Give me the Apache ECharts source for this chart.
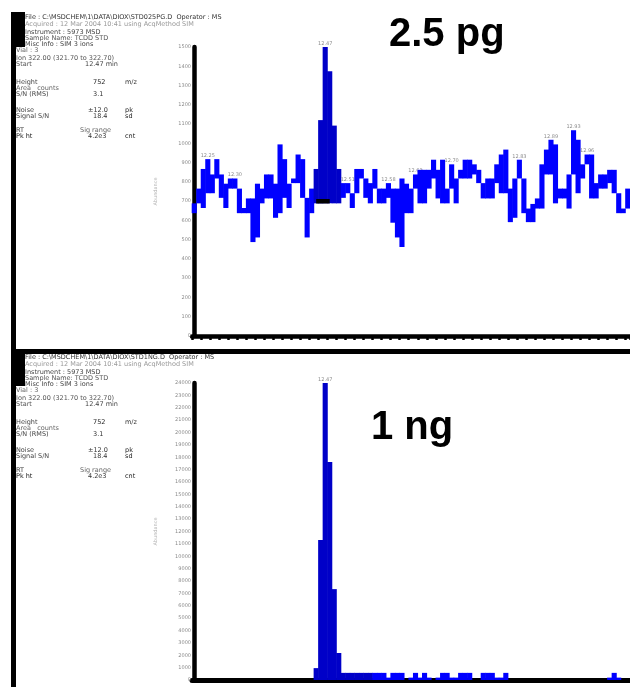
<!DOCTYPE html>
<html lang="en">
<head>
<meta charset="utf-8">
<title>2.5 pg / 1 ng</title>
<script src="https://cdn.jsdelivr.net/npm/echarts@6/dist/echarts.min.js"></script>
<style>
	html, body { margin: 0; padding: 0; background: #fff; }
	#chart { width: 630px; height: 687px; }
</style>
</head>
<body>
<div id="chart"></div>
<script>
// one column per scan, same scan window in both runs
var scans = [];
for (var i = 1; i <= 97; i++) scans.push(String(i));

// 2.5 pg run: each scan column spans low..high (relative abundance, %)
var topLow = [
	42.5, 45.9, 44.3, 49.4, 49.4, 54.5, 47.8, 44.3, 51.0, 51.0,
	42.5, 42.5, 42.5, 32.5, 34.1, 45.9, 47.6, 47.6, 40.9, 42.5,
	47.8, 44.3, 52.9, 52.9, 47.8, 34.1, 42.5, 45.9, 45.9, 45.9,
	45.9, 45.9, 45.9, 47.8, 49.4, 44.3, 49.4, 54.5, 47.8, 45.9,
	51.0, 45.9, 45.9, 47.8, 39.2, 34.1, 30.8, 42.5, 42.5, 51.0,
	45.9, 45.9, 51.0, 54.5, 47.6, 45.9, 45.9, 51.0, 45.9, 54.5,
	54.5, 54.5, 55.9, 52.9, 47.6, 47.6, 47.6, 52.9, 49.4, 49.4,
	39.4, 40.9, 54.5, 42.5, 39.4, 39.4, 44.1, 44.1, 55.9, 55.9,
	45.9, 47.6, 47.6, 44.1, 55.9, 49.4, 54.5, 59.4, 47.6, 47.6,
	51.0, 51.0, 52.9, 49.4, 42.5, 42.5, 44.1
];
var topHigh = [
	45.9, 51.0, 57.8, 61.2, 55.9, 61.2, 55.9, 52.7, 54.5, 54.5,
	51.0, 44.3, 47.6, 47.6, 52.7, 51.0, 55.9, 55.9, 52.7, 66.3,
	61.2, 52.7, 54.5, 62.8, 61.2, 47.8, 51.0, 57.8, 74.7, 100,
	91.6, 72.8, 57.8, 52.9, 52.9, 49.4, 57.8, 57.8, 54.5, 52.9,
	57.8, 51.0, 51.0, 52.9, 51.0, 51.0, 54.5, 52.7, 51.0, 55.9,
	57.5, 57.5, 57.5, 61.0, 57.5, 61.0, 51.0, 59.4, 54.5, 57.5,
	61.0, 61.0, 59.4, 57.5, 52.9, 54.5, 54.5, 59.4, 62.8, 64.5,
	51.0, 54.5, 61.0, 54.5, 44.1, 45.7, 47.6, 59.4, 64.5, 67.9,
	66.3, 51.0, 51.0, 55.9, 71.2, 67.9, 59.4, 62.8, 62.8, 52.9,
	55.9, 55.9, 57.5, 57.5, 49.4, 44.1, 51.0
];
// integrated peak and its baseline in the 2.5 pg run
var topPeak = [27, 32];
var topBaseline = [27, 30, 46.6];

// 1 ng run: abundance per scan (%)
var bottomVal = [
	0, 0, 0, 0, 0, 0, 0, 0, 0, 0,
	0, 0, 0, 0, 0, 0, 0, 0, 0, 0,
	0, 0, 0, 0, 0, 0, 0, 4.0, 47.1, 100,
	73.4, 30.6, 9.1, 2.4, 2.4, 2.4, 2.4, 2.4, 2.4, 2.4,
	2.4, 2.4, 2.4, 0.8, 2.4, 2.4, 2.4, 0, 0.8, 2.4,
	0.8, 2.4, 0.8, 0, 0.8, 2.4, 2.4, 0.8, 0.8, 2.4,
	2.4, 2.4, 0, 0, 2.4, 2.4, 2.4, 0.8, 0.8, 2.4,
	0, 0, 0, 0, 0, 0, 0, 0, 0, 0,
	0, 0, 0, 0, 0, 0, 0, 0, 0, 0,
	0, 0, 0.8, 2.4, 0.8, 0, 0
];
var bottomPeak = [27, 39];

// small retention-time tags printed over peaks
var topTagIdx = [3, 9, 29, 34, 43, 49, 57, 72, 79, 84, 87];
var topTagText = ['12.25', '12.30', '12.47', '12.51', '12.58', '12.63', '12.70', '12.83', '12.89', '12.93', '12.96'];
var bottomTagIdx = [29];
var bottomTagText = ['12.47'];

var BLUE = '#0000ff', DARK = '#0000c8';

// [scan index, low, high] per column
var topCols = topHigh.map(function (h, i) { return [i, topLow[i], h]; });
var bottomCols = bottomVal.map(function (v, i) { return [i, 0, v]; });
var baseLine = scans.map(function (s, i) {
	return (i >= topBaseline[0] && i <= topBaseline[1]) ? topBaseline[2] : null;
});

// a scan column drawn from low to high, touching its neighbours
function columnRenderer(peak, tagIdx, tagText) {
	return function (params, api) {
		var i = api.value(0);
		var lo = api.value(1), hi = api.value(2);
		if (hi <= lo) return null;
		var top = api.coord([i, hi]);
		var bot = api.coord([i, lo]);
		var w = api.size([1, 0])[0];
		var c = (i >= peak[0] && i <= peak[1]) ? DARK : BLUE;
		var kids = [{
			type: 'rect',
			shape: { x: top[0] - w / 2 - 0.3, y: top[1], width: w + 0.6, height: Math.max(bot[1] - top[1], 1) },
			style: { fill: c }
		}];
		var p = tagIdx.indexOf(i);
		if (p >= 0) {
			kids.push({
				type: 'text',
				style: {
					text: tagText[p], x: top[0], y: top[1] - 1,
					align: 'center', verticalAlign: 'bottom',
					font: '5px "DejaVu Sans"', fill: '#8c8c8c'
				}
			});
		}
		return { type: 'group', children: kids };
	};
}

// instrument header printed left of each trace
function infoBlock(dy, name) {
	var lines = [
		[25, 14, 'File : C:\\MSDCHEM\\1\\DATA\\DIOX\\' + name + '.D  Operator : MS', '#333'],
		[25, 21, 'Acquired : 12 Mar 2004 10:41 using AcqMethod SIM', '#999'],
		[25, 29, 'Instrument : 5973 MSD', '#444'],
		[25, 35, 'Sample Name: TCDD STD', '#555'],
		[25, 41, 'Misc Info : SIM 3 ions', '#444'],
		[16, 47, 'Vial : 3', '#666'],
		[16, 55, 'Ion 322.00 (321.70 to 322.70)', '#555'],
		[16, 61, 'Start', '#555'], [85, 61, '12.47 min', '#444'],
		[16, 79, 'Height', '#444'], [93, 79, '752', '#222'], [125, 79, 'm/z', '#333'],
		[16, 85, 'Area   counts', '#666'],
		[16, 91, 'S/N (RMS)', '#444'], [93, 91, '3.1', '#333'],
		[16, 107, 'Noise', '#444'], [88, 107, '±12.0', '#333'], [125, 107, 'pk', '#222'],
		[16, 113, 'Signal S/N', '#444'], [93, 113, '18.4', '#333'], [125, 113, 'sd', '#222'],
		[16, 127, 'RT', '#444'], [80, 127, 'Sig range', '#666'],
		[16, 133, 'Pk ht', '#222'], [88, 133, '4.2e3', '#333'], [125, 133, 'cnt', '#222']
	];
	return lines.map(function (l) {
		return {
			type: 'text', left: l[0], top: l[1] + dy, silent: true,
			style: { text: l[2], fill: l[3], font: '6.5px "DejaVu Sans"' }
		};
	});
}

var chart = echarts.init(document.getElementById('chart'), null, { renderer: 'canvas' });

var yCommon = {
	type: 'value', min: 0, max: 100, offset: -2,
	name: 'Abundance', nameLocation: 'middle', nameRotate: 90, nameGap: 36,
	nameTextStyle: { fontSize: 5, color: '#b4b4b4', fontFamily: 'DejaVu Sans' },
	axisLine: { show: true, lineStyle: { color: '#000', width: 4.5 } },
	axisTick: { show: false },
	splitLine: { show: false },
	axisLabel: { fontSize: 5, color: '#8a8a8a', margin: 3, fontFamily: 'DejaVu Sans' }
};

chart.setOption({
	animation: false,
	backgroundColor: '#fff',
	grid: [
		{ left: 192, right: 0, top: 47, height: 289 },
		{ left: 192, right: 0, top: 383, height: 297 }
	],
	xAxis: [
		{
			type: 'category', gridIndex: 0, data: scans, boundaryGap: true,
			axisLine: { lineStyle: { color: '#000', width: 4.5 } },
			axisTick: { show: true, interval: 1, length: 4, lineStyle: { color: '#000', width: 2.5 } },
			axisLabel: { show: false }
		},
		{
			type: 'category', gridIndex: 1, data: scans, boundaryGap: true,
			axisLine: { lineStyle: { color: '#000', width: 5 } },
			axisTick: { show: false },
			axisLabel: { show: false }
		}
	],
	yAxis: [
		Object.assign({}, yCommon, {
			gridIndex: 0, interval: 100 / 15,
			axisLabel: Object.assign({}, yCommon.axisLabel, {
				formatter: function (v) { return String(Math.round(v * 15)); }
			})
		}),
		Object.assign({}, yCommon, {
			gridIndex: 1, interval: 100 / 24,
			axisLabel: Object.assign({}, yCommon.axisLabel, {
				formatter: function (v) { return String(Math.round(v * 240)); }
			})
		})
	],
	series: [
		{
			name: '2.5 pg', type: 'custom', xAxisIndex: 0, yAxisIndex: 0,
			data: topCols, encode: { x: 0, y: [1, 2] }, silent: true, z: 3,
			renderItem: columnRenderer(topPeak, topTagIdx, topTagText)
		},
		{
			name: 'baseline', type: 'line', xAxisIndex: 0, yAxisIndex: 0,
			data: baseLine, symbol: 'none', silent: true, z: 5,
			lineStyle: { color: '#000', width: 4.5, cap: 'butt' }
		},
		{
			name: '1 ng', type: 'custom', xAxisIndex: 1, yAxisIndex: 1,
			data: bottomCols, encode: { x: 0, y: [1, 2] }, silent: true, z: 3,
			renderItem: columnRenderer(bottomPeak, bottomTagIdx, bottomTagText)
		}
	],
	graphic: [].concat(
		[
			// page frame and separator of the printout
			{ type: 'rect', silent: true, shape: { x: 11, y: 12, width: 5, height: 675 }, style: { fill: '#000' } },
			{ type: 'rect', silent: true, shape: { x: 11, y: 12, width: 14, height: 35 }, style: { fill: '#000' } },
			{ type: 'rect', silent: true, shape: { x: 11, y: 349, width: 619, height: 5 }, style: { fill: '#000' } },
			{ type: 'rect', silent: true, shape: { x: 11, y: 353, width: 14, height: 33 }, style: { fill: '#000' } },
			{ type: 'text', left: 389, top: 15, silent: true,
				style: { text: '2.5 pg', fill: '#000', font: 'bold 40px "Liberation Sans", Arial, sans-serif' } },
			{ type: 'text', left: 371, top: 408, silent: true,
				style: { text: '1 ng', fill: '#000', font: 'bold 40px "Liberation Sans", Arial, sans-serif' } }
		],
		infoBlock(0, 'STD025PG'),
		infoBlock(340, 'STD1NG')
	)
});
</script>
</body>
</html>
